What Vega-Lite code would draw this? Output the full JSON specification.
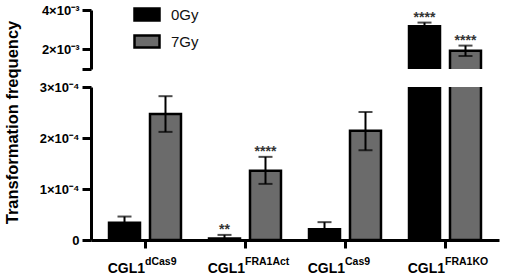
{
  "$schema": "https://vega.github.io/schema/vega-lite/v6.json",
  "padding": {"left": 3, "top": 0, "right": 2, "bottom": 0},
  "bounds": "flush",
  "config": {
    "view": {"stroke": null},
    "font": "Liberation Sans",
    "axis": {"domainColor": "#000", "tickColor": "#000", "labelColor": "#000", "titleColor": "#000", "grid": false}
  },
  "datasets": {
    "bars": [
      {"group": "dCas9", "cond": "0Gy", "value": 0.000034, "lo": 0.000022, "hi": 0.000046, "sig": ""},
      {"group": "dCas9", "cond": "7Gy", "value": 0.000247, "lo": 0.000212, "hi": 0.000282, "sig": ""},
      {"group": "FRA1Act", "cond": "0Gy", "value": 0.000003, "lo": 0, "hi": 0.00001, "sig": "**"},
      {"group": "FRA1Act", "cond": "7Gy", "value": 0.000136, "lo": 0.00011, "hi": 0.000163, "sig": "****"},
      {"group": "Cas9", "cond": "0Gy", "value": 0.000021, "lo": 0.000007, "hi": 0.000035, "sig": ""},
      {"group": "Cas9", "cond": "7Gy", "value": 0.000214, "lo": 0.000176, "hi": 0.000251, "sig": ""},
      {"group": "FRA1KO", "cond": "0Gy", "value": 0.00317, "lo": 0.00298, "hi": 0.00336, "sig": "****"},
      {"group": "FRA1KO", "cond": "7Gy", "value": 0.00193, "lo": 0.00166, "hi": 0.00219, "sig": "****"}
    ],
    "labels": [
      {"group": "dCas9", "sup": "dCas9"},
      {"group": "FRA1Act", "sup": "FRA1Act"},
      {"group": "Cas9", "sup": "Cas9"},
      {"group": "FRA1KO", "sup": "FRA1KO"}
    ]
  },
  "resolve": {"scale": {"y": "independent"}, "axis": {"y": "independent"}},
  "spacing": 18,
  "vconcat": [
    {
      "width": 408,
      "height": 59,
      "data": {"name": "bars"},
      "layer": [
        {
          "mark": {"type": "bar", "clip": true, "stroke": "#000", "strokeWidth": 2.5},
          "encoding": {
            "x": {"field": "group", "type": "nominal", "scale": {"domain": ["dCas9", "FRA1Act", "Cas9", "FRA1KO"], "paddingInner": 0, "paddingOuter": 0.04}, "axis": null},
            "xOffset": {"field": "cond", "type": "nominal", "scale": {"domain": ["0Gy", "7Gy"], "paddingInner": 0.244, "paddingOuter": 0.342}},
            "y": {"field": "value", "type": "quantitative", "scale": {"domain": [0.001, 0.004], "zero": false, "nice": false},
              "axis": {"values": [0.001, 0.002, 0.004], "tickCount": 10, "labelOverlap": false, "labelFlush": false, "title": null, "labelExpr": "datum.value < 0.0015 ? '' : round(datum.value*1000) + '×10⁻³'", "tickSize": 9, "tickWidth": 3, "domainWidth": 3, "labelFontSize": 13, "labelFontWeight": "bold", "labelPadding": 3}},
            "y2": {"datum": 0},
            "color": {"field": "cond", "type": "nominal", "scale": {"domain": ["0Gy", "7Gy"], "range": ["#000000", "#6b6b6b"]},
              "legend": {"title": null, "orient": "none", "legendX": 42, "legendY": -9.5, "symbolType": "M-1,-0.48H1V0.48H-1Z", "symbolSize": 625, "symbolStrokeColor": "#000", "symbolStrokeWidth": 2.5, "labelFontSize": 15, "labelColor": "#111", "labelOffset": 10, "rowPadding": 2}}
          }
        },
        {
          "transform": [{"filter": "datum.group == 'FRA1KO'"}],
          "mark": {"type": "rule", "strokeWidth": 2, "color": "#000"},
          "encoding": {
            "x": {"field": "group", "type": "nominal"},
            "xOffset": {"field": "cond", "type": "nominal"},
            "y": {"field": "lo", "type": "quantitative"},
            "y2": {"field": "hi"}
          }
        },
        {
          "transform": [{"filter": "datum.group == 'FRA1KO'"}],
          "mark": {"type": "tick", "thickness": 2, "size": 14, "color": "#000", "orient": "horizontal"},
          "encoding": {
            "x": {"field": "group", "type": "nominal"},
            "xOffset": {"field": "cond", "type": "nominal"},
            "y": {"field": "hi", "type": "quantitative"}
          }
        },
        {
          "transform": [{"filter": "datum.group == 'FRA1KO'"}],
          "mark": {"type": "tick", "thickness": 2, "size": 14, "color": "#000", "orient": "horizontal"},
          "encoding": {
            "x": {"field": "group", "type": "nominal"},
            "xOffset": {"field": "cond", "type": "nominal"},
            "y": {"field": "lo", "type": "quantitative"}
          }
        },
        {
          "transform": [{"filter": "datum.group == 'FRA1KO' && datum.sig != ''"}],
          "mark": {"type": "text", "fontSize": 14, "fontWeight": "bold", "color": "#333", "baseline": "alphabetic", "dy": -1},
          "encoding": {
            "x": {"field": "group", "type": "nominal"},
            "xOffset": {"field": "cond", "type": "nominal"},
            "y": {"field": "hi", "type": "quantitative"},
            "text": {"field": "sig"}
          }
        }
      ]
    },
    {
      "width": 408,
      "height": 153,
      "layer": [
        {
          "data": {"name": "bars"},
          "mark": {"type": "bar", "clip": true, "stroke": "#000", "strokeWidth": 2.5},
          "encoding": {
            "x": {"field": "group", "type": "nominal", "scale": {"domain": ["dCas9", "FRA1Act", "Cas9", "FRA1KO"], "paddingInner": 0, "paddingOuter": 0.04},
              "axis": {"title": null, "labelExpr": "'CGL1'", "labelAngle": 0, "labelAlign": "right", "labelDx": -1, "labelPadding": 13, "labelFontSize": 14, "labelFontWeight": "bold", "tickSize": 8, "tickWidth": 3, "domainWidth": 3}},
            "xOffset": {"field": "cond", "type": "nominal", "scale": {"domain": ["0Gy", "7Gy"], "paddingInner": 0.244, "paddingOuter": 0.342}},
            "y": {"field": "value", "type": "quantitative", "scale": {"domain": [0, 0.0003], "nice": false},
              "axis": {"values": [0, 0.0001, 0.0002, 0.0003], "tickCount": 10, "title": "Transformation frequency", "titleFontSize": 16.5, "titleFontWeight": "bold", "titleX": -71, "titleY": 35, "labelExpr": "datum.value == 0 ? '0' : round(datum.value*10000) + '×10⁻⁴'", "tickSize": 9, "tickWidth": 3, "domainWidth": 3, "labelFontSize": 13, "labelFontWeight": "bold", "labelPadding": 3}},
            "color": {"field": "cond", "type": "nominal", "scale": {"domain": ["0Gy", "7Gy"], "range": ["#000000", "#6b6b6b"]}, "legend": null}
          }
        },
        {
          "data": {"name": "bars"},
          "transform": [{"filter": "datum.group != 'FRA1KO'"}],
          "mark": {"type": "rule", "strokeWidth": 2, "color": "#000"},
          "encoding": {
            "x": {"field": "group", "type": "nominal"},
            "xOffset": {"field": "cond", "type": "nominal"},
            "y": {"field": "lo", "type": "quantitative"},
            "y2": {"field": "hi"}
          }
        },
        {
          "data": {"name": "bars"},
          "transform": [{"filter": "datum.group != 'FRA1KO'"}],
          "mark": {"type": "tick", "thickness": 2, "size": 14, "color": "#000", "orient": "horizontal"},
          "encoding": {
            "x": {"field": "group", "type": "nominal"},
            "xOffset": {"field": "cond", "type": "nominal"},
            "y": {"field": "hi", "type": "quantitative"}
          }
        },
        {
          "data": {"name": "bars"},
          "transform": [{"filter": "datum.group != 'FRA1KO' && datum.lo > 0"}],
          "mark": {"type": "tick", "thickness": 2, "size": 14, "color": "#000", "orient": "horizontal"},
          "encoding": {
            "x": {"field": "group", "type": "nominal"},
            "xOffset": {"field": "cond", "type": "nominal"},
            "y": {"field": "lo", "type": "quantitative"}
          }
        },
        {
          "data": {"name": "bars"},
          "transform": [{"filter": "datum.group != 'FRA1KO' && datum.sig != ''"}],
          "mark": {"type": "text", "fontSize": 14, "fontWeight": "bold", "color": "#333", "baseline": "alphabetic", "dy": -1},
          "encoding": {
            "x": {"field": "group", "type": "nominal"},
            "xOffset": {"field": "cond", "type": "nominal"},
            "y": {"field": "hi", "type": "quantitative"},
            "text": {"field": "sig"}
          }
        },
        {
          "data": {"name": "labels"},
          "mark": {"type": "text", "fontSize": 10.5, "fontWeight": "bold", "color": "#000", "align": "left", "baseline": "alphabetic", "dx": 0, "dy": 25},
          "encoding": {
            "x": {"field": "group", "type": "nominal"},
            "y": {"datum": 0, "type": "quantitative"},
            "text": {"field": "sup"}
          }
        }
      ]
    }
  ]
}
